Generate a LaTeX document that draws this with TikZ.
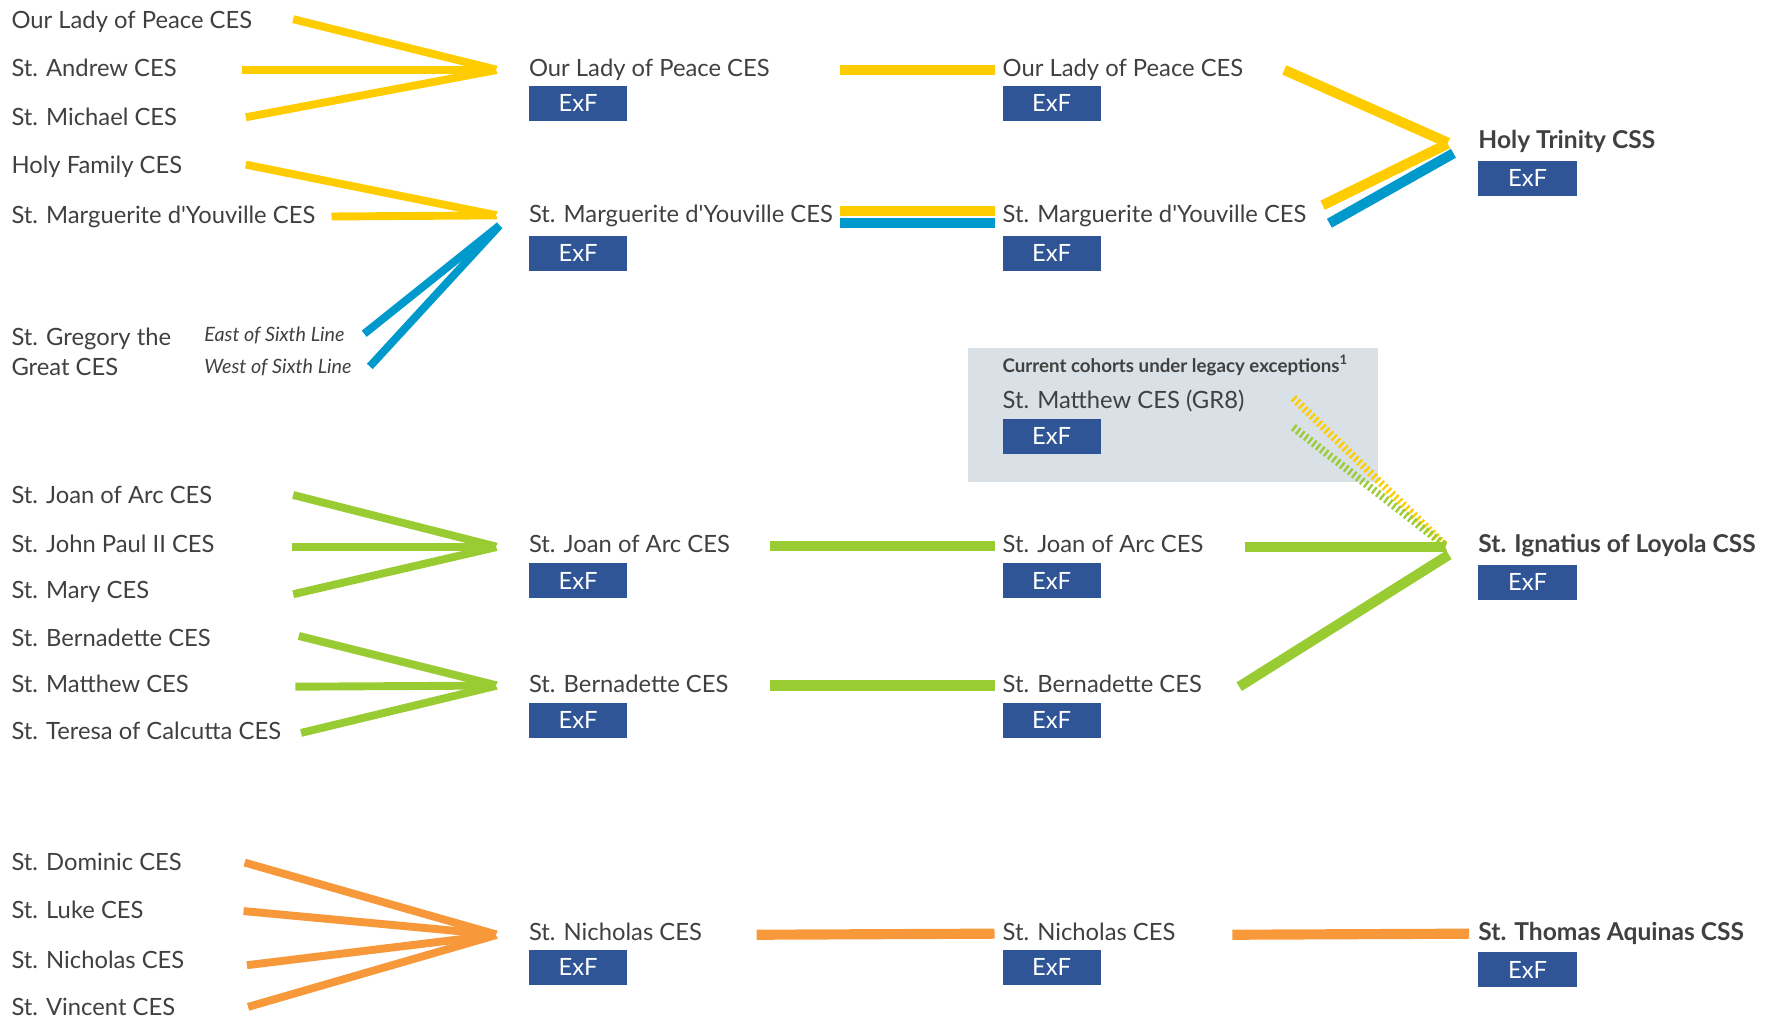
\documentclass[tikz,border=0pt]{standalone}
\usepackage{fontspec}
\setmainfont{Lato}[Ligatures=TeXOff]
\usetikzlibrary{calc,positioning,backgrounds}
\definecolor{Yellow}{RGB}{255,204,0}
\definecolor{Blue}{RGB}{0,153,204}
\definecolor{Green}{RGB}{153,204,51}
\definecolor{Orange}{RGB}{247,153,58}
\definecolor{ExFBlue}{RGB}{47,85,151}
\definecolor{Cohort}{RGB}{217,225,230}
\definecolor{TextGrey}{RGB}{64,64,64}

\begin{document}
\begin{tikzpicture}[x=1pt, y=-1pt, text=TextGrey,
	   every node/.style={font=\fontsize{21.1}{25}\selectfont},
	   school/.style={anchor=west, inner sep=0pt, text height=2.6ex, text depth=.25ex},
	   css/.style={school, font=\fontsize{21.8}{25}\selectfont\bfseries},
	   exf/.style={rectangle, fill=ExFBlue, text=white, inner sep=0pt,
	               minimum width=87pt, minimum height=31pt},
	   cohort/.style={rectangle, fill=Cohort, inner sep=0pt},
	   feeder/.style={draw=#1, line width=7pt},
	   trunk/.style={draw=#1, line width=9pt},
	   legacy/.style={draw=#1, line width=7pt, dash pattern=on 2pt off 2.5pt}]
	\useasboundingbox (0,0) rectangle (1568,905);

	%% Legacy cohort box
	\node [cohort, anchor=north west, minimum width=364pt, minimum height=119pt] (legacy) at (858,308) {};
	\node [school, font=\fontsize{16.6}{19}\selectfont\bfseries] (legtitle) at (889,324) {Current cohorts under legacy exceptions\textsuperscript{1}};
	\node [school] (smtG) at (889,356) {St. Matthew CES (GR8)};
	\node [exf, below right=15pt and 0pt of smtG.west] (smtGx) {ExF};

	%% Feeder schools
	\node [school] (olpL) at (10,19) {Our Lady of Peace CES};
	\node [school] (sanL) at (10,62) {St. Andrew CES};
	\node [school] (smiL) at (10,105) {St. Michael CES};
	\node [school] (hfaL) at (10,148) {Holy Family CES};
	\node [school] (smyL) at (10,192) {St. Marguerite d'Youville CES};
	\node [anchor=west, inner sep=0pt, align=left, font=\fontsize{21.1}{26}\selectfont] (sgrL) at (10,312) {St. Gregory the\\Great CES};
	\node [school, font=\fontsize{17.5}{20}\selectfont\itshape] (sgrE) at (181,297) {East of Sixth Line};
	\node [school, font=\fontsize{17.5}{20}\selectfont\itshape] (sgrW) at (181,325) {West of Sixth Line};
	\node [school] (sjaL) at (10,441) {St. Joan of Arc CES};
	\node [school] (sjpL) at (10,484) {St. John Paul II CES};
	\node [school] (smaL) at (10,525) {St. Mary CES};
	\node [school] (sbeL) at (10,567) {St. Bernadette CES};
	\node [school] (smtL) at (10,608) {St. Matthew CES};
	\node [school] (stcL) at (10,650) {St. Teresa of Calcutta CES};
	\node [school] (sdoL) at (10,766) {St. Dominic CES};
	\node [school] (sluL) at (10,809) {St. Luke CES};
	\node [school] (sniL) at (10,853) {St. Nicholas CES};
	\node [school] (sviL) at (10,895) {St. Vincent CES};

	%% Receiving elementary schools
	\node [school] (olpM) at (469,62) {Our Lady of Peace CES};
	\node [exf, below right=14pt and 0pt of olpM.west] (olpMx) {ExF};
	\node [school] (smyM) at (469,191) {St. Marguerite d'Youville CES};
	\node [exf, below right=18pt and 0pt of smyM.west] (smyMx) {ExF};
	\node [school] (sjaM) at (469,484) {St. Joan of Arc CES};
	\node [exf, below right=15.5pt and 0pt of sjaM.west] (sjaMx) {ExF};
	\node [school] (sbeM) at (469,608) {St. Bernadette CES};
	\node [exf, below right=15pt and 0pt of sbeM.west] (sbeMx) {ExF};
	\node [school] (sniM) at (469,828) {St. Nicholas CES};
	\node [exf, below right=14pt and 0pt of sniM.west] (sniMx) {ExF};

	\node [school] (olpR) at (889,62) {Our Lady of Peace CES};
	\node [exf, below right=14pt and 0pt of olpR.west] (olpRx) {ExF};
	\node [school] (smyR) at (889,191) {St. Marguerite d'Youville CES};
	\node [exf, below right=18pt and 0pt of smyR.west] (smyRx) {ExF};
	\node [school] (sjaR) at (889,484) {St. Joan of Arc CES};
	\node [exf, below right=15.5pt and 0pt of sjaR.west] (sjaRx) {ExF};
	\node [school] (sbeR) at (889,608) {St. Bernadette CES};
	\node [exf, below right=15pt and 0pt of sbeR.west] (sbeRx) {ExF};
	\node [school] (sniR) at (889,828) {St. Nicholas CES};
	\node [exf, below right=14pt and 0pt of sniR.west] (sniRx) {ExF};

	%% Secondary schools
	\node [css] (htS) at (1311,126) {Holy Trinity CSS};
	\node [exf, below right=16.5pt and 0pt of htS.west] (htSx) {ExF};
	\node [css] (silS) at (1311,484) {St. Ignatius of Loyola CSS};
	\node [exf, below right=16.5pt and 0pt of silS.west] (silSx) {ExF};
	\node [css] (staS) at (1311,828) {St. Thomas Aquinas CSS};
	\node [exf, below right=16.5pt and 0pt of staS.west] (staSx) {ExF};

	%% Hubs and free line ends
	\coordinate (h1) at (441,62);
	\coordinate (h2) at (441,191);
	\coordinate (h2b) at (443,200);
	\coordinate (h3) at (1285,127);
	\coordinate (h3b) at (1289,136);
	\coordinate (h4) at (441,485);
	\coordinate (h5) at (441,608);
	\coordinate (h6) at (1283,485);
	\coordinate (h6b) at (1285,492);
	\coordinate (h7) at (441,829);

	\coordinate (olpL-e) at (260,17);
	\coordinate (sanL-e) at (215,62);
	\coordinate (smiL-e) at (218,104);
	\coordinate (hfaL-e) at (218,146);
	\coordinate (smyL-e) at (294,192);
	\coordinate (sgrE-e) at (323,296);
	\coordinate (sgrW-e) at (328,325);
	\coordinate (sjaL-e) at (260,439);
	\coordinate (sjpL-e) at (259,485);
	\coordinate (smaL-e) at (260,527);
	\coordinate (sbeL-e) at (265,564);
	\coordinate (smtL-e) at (262,609);
	\coordinate (stcL-e) at (267,650);
	\coordinate (sdoL-e) at (217,765);
	\coordinate (sluL-e) at (216,808);
	\coordinate (sniL-e) at (219,856);
	\coordinate (sviL-e) at (220,893);

	\coordinate (olpM-e) at (745,62);
	\coordinate (smyM-e) at (745,191);
	\coordinate (sjaM-e) at (683,484);
	\coordinate (sbeM-e) at (683,608);
	\coordinate (sniM-e) at (671,829);
	\coordinate (olpR-e) at (1139,62);
	\coordinate (smyR-e) at (1173,182);
	\coordinate (smyR-f) at (1179,198);
	\coordinate (sjaR-e) at (1104,485);
	\coordinate (sbeR-e) at (1099,609);
	\coordinate (sniR-e) at (1093,829);
	\coordinate (smtG-e) at (1147,353);
	\coordinate (smtG-f) at (1147,379);

	%% Feeder fans
	\draw[feeder=Yellow] (olpL-e) -- (h1);
	\draw[feeder=Yellow] (sanL-e) -- (h1);
	\draw[feeder=Yellow] (smiL-e) -- (h1);
	\draw[feeder=Yellow] (hfaL-e) -- (h2);
	\draw[feeder=Yellow] (smyL-e) -- (h2);
	\draw[feeder=Blue] (sgrE-e) -- (h2b);
	\draw[feeder=Blue] (sgrW-e) -- (h2b);
	\draw[feeder=Green] (sjaL-e) -- (h4);
	\draw[feeder=Green] (sjpL-e) -- (h4);
	\draw[feeder=Green] (smaL-e) -- (h4);
	\draw[feeder=Green] (sbeL-e) -- (h5);
	\draw[feeder=Green] (smtL-e) -- (h5);
	\draw[feeder=Green] (stcL-e) -- (h5);
	\draw[feeder=Orange] (sdoL-e) -- (h7);
	\draw[feeder=Orange] (sluL-e) -- (h7);
	\draw[feeder=Orange] (sniL-e) -- (h7);
	\draw[feeder=Orange] (sviL-e) -- (h7);

	%% Trunks
	\draw[trunk=Yellow, shorten >=7pt] (olpM-e) -- (olpR.west);
	\draw[trunk=Yellow, shorten >=7pt] ([yshift=4pt]smyM-e) -- ([yshift=4pt]smyR.west);
	\draw[trunk=Blue, shorten >=7pt] ([yshift=-7pt]smyM-e) -- ([yshift=-7pt]smyR.west);
	\draw[trunk=Green, shorten >=7pt] (sjaM-e) -- (sjaR.west);
	\draw[trunk=Green, shorten >=7pt] (sbeM-e) -- (sbeR.west);
	\draw[trunk=Orange, shorten >=7pt] (sniM-e) -- (sniR.west);

	\draw[trunk=Yellow] (olpR-e) -- (h3);
	\draw[trunk=Yellow] (smyR-e) -- (h3);
	\draw[trunk=Blue] (smyR-f) -- (h3b);
	\draw[legacy=Yellow] (smtG-e) -- (h6);
	\draw[legacy=Green] (smtG-f) -- (h6);
	\draw[trunk=Green] (sjaR-e) -- (h6);
	\draw[trunk=Green] (sbeR-e) -- (h6b);
	\draw[trunk=Orange, shorten >=8pt] (sniR-e) -- (staS.west);

	%% Notches
	\foreach \h in {h1,h2,h3,h4,h5,h6,h7}
		\fill[white] ($(\h)+(4,0)$) circle (5pt);
\end{tikzpicture}
\end{document}
